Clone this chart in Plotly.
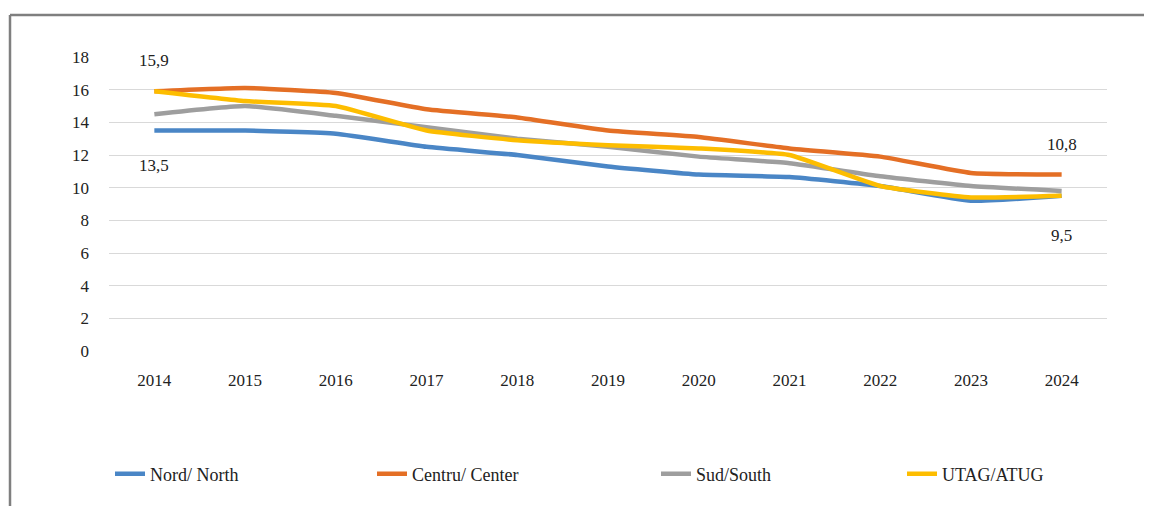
import plotly.graph_objects as go

years = ["2014", "2015", "2016", "2017", "2018", "2019", "2020", "2021", "2022", "2023", "2024"]
nord = [13.5, 13.5, 13.3, 12.5, 12.0, 11.3, 10.8, 10.65, 10.1, 9.2, 9.5]
centru = [15.9, 16.1, 15.8, 14.8, 14.3, 13.5, 13.1, 12.4, 11.9, 10.9, 10.8]
sud = [14.5, 15.0, 14.4, 13.7, 13.0, 12.5, 11.9, 11.5, 10.7, 10.1, 9.8]
utag = [15.9, 15.3, 15.0, 13.5, 12.9, 12.6, 12.4, 12.0, 10.1, 9.4, 9.5]
names = ["Nord/ North", "Centru/ Center", "Sud/South", "UTAG/ATUG"]
colors = ["#4a86c6", "#e46f25", "#9e9e9e", "#fdbd00"]
series = [nord, centru, sud, utag]

FONT = "Liberation Serif, Times New Roman, serif"

OFF = 8  # page body margin
L, R, T, B = 109, 1107, 57, 351
W, H = R - L, B - T
def px(x): return (x - L) / W
def py(y): return (B - y) / H

legend_ids = ["legend", "legend2", "legend3", "legend4"]
legend_x = [118, 380, 664, 910]

fig = go.Figure()
for n, s, c, lg in zip(names, series, colors, legend_ids):
    fig.add_trace(go.Scatter(x=years, y=s, name=n, mode="lines", legend=lg,
                             line=dict(color=c, width=4.5, shape="spline", smoothing=0.4)))

# data labels: (series, point index, text, vertical shift)
labels = [(centru, 0, "15,9", 31), (nord, 0, "13,5", -35),
          (centru, 10, "10,8", 30), (utag, 10, "9,5", -40)]
for s, i, t, ys in labels:
    fig.add_annotation(x=i, y=s[i], text=t, showarrow=False, yshift=ys,
                       font=dict(family=FONT, size=17, color="#222"))

# outer frame: top and left edges only (others fall outside the picture)
fig.add_shape(type="line", xref="paper", yref="paper",
              x0=px(10), x1=px(1170), y0=py(15), y1=py(15),
              line=dict(color="#7f7f7f", width=2.5), layer="below")
fig.add_shape(type="line", xref="paper", yref="paper",
              x0=px(10), x1=px(10), y0=py(15), y1=py(530),
              line=dict(color="#7f7f7f", width=2.5), layer="below")

legend_style = dict(orientation="h", yanchor="middle", xanchor="left", y=py(474),
                    bgcolor="rgba(0,0,0,0)",
                    font=dict(family=FONT, size=18, color="#222"))

fig.update_layout(
    width=1152 - OFF, height=506 - OFF,
    margin=dict(l=L - OFF, r=1152 - R, t=T - OFF, b=506 - B),
    paper_bgcolor="white", plot_bgcolor="white",
    font=dict(family=FONT, size=17, color="#222"),
    showlegend=True,
    xaxis=dict(type="category", range=[-0.5, 10.5], showgrid=False, zeroline=False,
               showline=False, ticks="", ticklabelstandoff=17, tickfont=dict(size=17)),
    yaxis=dict(range=[0, 18], dtick=2, showgrid=True, gridcolor="#d9d9d9", gridwidth=1,
               zeroline=False, showline=False, ticks="", ticklabelstandoff=19,
               tickfont=dict(size=17)),
)
for lg, lx in zip(legend_ids, legend_x):
    fig.update_layout({lg: dict(legend_style, x=px(lx - 8))})

fig.write_html("out.html")
